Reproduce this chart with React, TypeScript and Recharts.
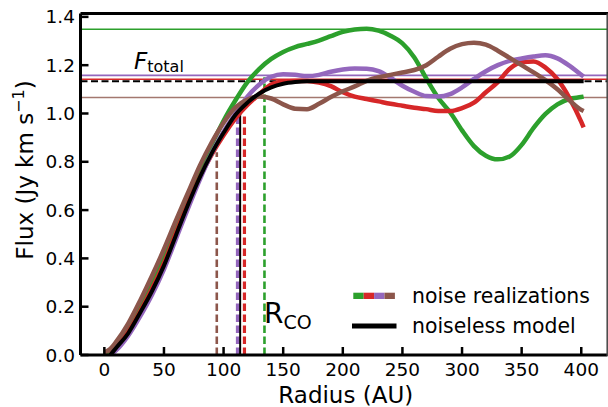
import React from 'react';
import { LineChart, Line, XAxis, YAxis, ReferenceLine } from 'recharts';

const radius = [0, 5, 10, 20, 30, 40, 50, 60, 70, 80, 90, 100, 110, 120, 130, 140, 150, 160, 170, 180, 190, 200, 210, 220, 230, 240, 250, 260, 270, 280, 290, 300, 310, 320, 330, 340, 350, 360, 370, 380, 390, 400, 402];

const modelFlux = [null, 0.0, 0.03, 0.09, 0.175, 0.265, 0.37, 0.495, 0.62, 0.735, 0.835, 0.92, 0.995, 1.045, 1.083, 1.108, 1.123, 1.13, 1.133, 1.133, 1.133, 1.133, 1.133, 1.133, 1.133, 1.133, 1.133, 1.133, 1.133, 1.133, 1.133, 1.133, 1.133, 1.133, 1.133, 1.133, 1.133, 1.133, 1.133, 1.133, 1.133, 1.133, 1.133];

const greenFlux = [0.005, 0.02, 0.045, 0.115, 0.205, 0.305, 0.415, 0.535, 0.65, 0.765, 0.87, 0.97, 1.055, 1.13, 1.185, 1.226, 1.255, 1.275, 1.288, 1.302, 1.32, 1.338, 1.348, 1.351, 1.343, 1.322, 1.29, 1.232, 1.145, 1.065, 1.005, 0.93, 0.865, 0.825, 0.81, 0.822, 0.87, 0.94, 0.998, 1.038, 1.06, 1.068, 1.07];

const redFlux = [null, 0.0, 0.03, 0.095, 0.18, 0.275, 0.38, 0.505, 0.625, 0.735, 0.83, 0.91, 0.98, 1.035, 1.08, 1.12, 1.132, 1.135, 1.135, 1.128, 1.113, 1.088, 1.07, 1.06, 1.05, 1.04, 1.032, 1.024, 1.018, 1.01, 1.01, 1.022, 1.045, 1.088, 1.13, 1.185, 1.212, 1.215, 1.19, 1.142, 1.065, 0.965, 0.942];

const purpleFlux = [null, 0.0, 0.02, 0.08, 0.16, 0.25, 0.355, 0.48, 0.605, 0.725, 0.835, 0.925, 1.0, 1.07, 1.12, 1.152, 1.162, 1.16, 1.155, 1.16, 1.173, 1.182, 1.186, 1.185, 1.175, 1.148, 1.115, 1.09, 1.072, 1.07, 1.08, 1.108, 1.143, 1.175, 1.2, 1.218, 1.228, 1.236, 1.241, 1.228, 1.198, 1.16, 1.153];

const brownFlux = [0.01, 0.025, 0.055, 0.13, 0.225, 0.328, 0.438, 0.556, 0.67, 0.783, 0.88, 0.962, 1.025, 1.058, 1.07, 1.062, 1.038, 1.02, 1.018, 1.04, 1.068, 1.092, 1.112, 1.135, 1.15, 1.16, 1.17, 1.18, 1.2, 1.235, 1.268, 1.287, 1.293, 1.285, 1.26, 1.23, 1.2, 1.17, 1.138, 1.1, 1.055, 1.015, 1.01];

// noise realization order: green, red, purple, brown
const seriesKeys = ['green', 'red', 'purple', 'brown'];
const seriesColors = ['#2ca02c', '#d62728', '#9467bd', '#8c564b'];
const totalFlux = [1.349, 1.142, 1.158, 1.066];
const rcoRadius = [134.3, 117.5, 112.0, 94.3];
const rcoTop = [1.15, 1.0, 0.99, 0.84];
const rcoWidth = [2.6, 3.2, 4, 2.6];

const modelTotal = 1.133;
const modelRco = 113.9;
const modelRcoTop = 1.02;

const xTicks = [0, 50, 100, 150, 200, 250, 300, 350, 400];
const yTicks = [0, 0.2, 0.4, 0.6, 0.8, 1.0, 1.2, 1.4];

const rows = radius.map((r, i) => ({
  r,
  model: modelFlux[i],
  green: greenFlux[i],
  red: redFlux[i],
  purple: purpleFlux[i],
  brown: brownFlux[i],
}));

const FONT = 'DejaVu Sans, sans-serif';

export default function App() {
  return (
    <div style={{ position: 'absolute', left: 0, top: 0, width: 608, height: 407, background: '#fff' }}>
      <LineChart
        width={608}
        height={407}
        data={rows}
        margin={{ top: 13.5, right: 0.5, bottom: 0, left: 0 }}
        style={{ fontFamily: FONT }}
      >
        <XAxis
          dataKey="r"
          type="number"
          domain={[-20, 422]}
          ticks={xTicks}
          interval={0}
          allowDataOverflow
          height={52}
          tickSize={-8}
          tickMargin={16}
          axisLine={{ stroke: '#000', strokeWidth: 3 }}
          tickLine={{ stroke: '#000', strokeWidth: 2.5 }}
          tick={{ fontSize: 18.5, fill: '#000', fontFamily: FONT }}
        />
        <YAxis
          type="number"
          domain={[0, 1.414]}
          ticks={yTicks}
          interval={0}
          allowDataOverflow
          width={80.5}
          tickSize={-8}
          tickMargin={13.5}
          axisLine={{ stroke: '#000', strokeWidth: 3 }}
          tickLine={{ stroke: '#000', strokeWidth: 2.5 }}
          tick={{ fontSize: 18.5, fill: '#000', fontFamily: FONT }}
          tickFormatter={(v: number) => v.toFixed(1)}
        />
        {seriesKeys.map((k, i) => (
          <ReferenceLine key={'h' + k} y={totalFlux[i]} stroke={seriesColors[i]} strokeWidth={1.6} strokeOpacity={i === 3 ? 0.8 : 1} />
        ))}
        <ReferenceLine y={modelTotal} stroke="#000" strokeWidth={2} strokeDasharray="7 3.5" />
        {seriesKeys.map((k, i) => (
          <ReferenceLine
            key={'v' + k}
            segment={[{ x: rcoRadius[i], y: 0 }, { x: rcoRadius[i], y: rcoTop[i] }]}
            stroke={seriesColors[i]}
            strokeWidth={rcoWidth[i]}
            strokeDasharray="7.5 3.5"
          />
        ))}
        <ReferenceLine segment={[{ x: modelRco, y: 0 }, { x: modelRco, y: modelRcoTop }]} stroke="#000" strokeWidth={2} />
        {seriesKeys.map((k, i) => (
          <Line
            key={k}
            dataKey={k}
            type="monotone"
            stroke={seriesColors[i]}
            strokeWidth={4.5}
            dot={false}
            activeDot={false}
            isAnimationActive={false}
          />
        ))}
        <Line dataKey="model" type="monotone" stroke="#000" strokeWidth={4} dot={false} activeDot={false} isAnimationActive={false} />
      </LineChart>
      <svg width={608} height={407} style={{ position: 'absolute', left: 0, top: 0, pointerEvents: 'none', fontFamily: FONT }}>
        <line x1={80.5} y1={13.5} x2={608} y2={13.5} stroke="#000" strokeWidth={3} />
        <line x1={607.2} y1={13.5} x2={607.2} y2={356} stroke="#444" strokeWidth={1.5} />
        <text x={134} y={68.5} fontSize={23} fill="#000">
          <tspan fontStyle="italic">F</tspan>
          <tspan fontSize={16} dy={3.5}>total</tspan>
        </text>
        <text x={264} y={323} fontSize={28} fill="#000">
          R<tspan fontSize={19} dy={6}>CO</tspan>
        </text>
        <text x={345.8} y={403.3} fontSize={23} textAnchor="middle" fill="#000">Radius (AU)</text>
        <text transform="translate(33,170) rotate(-90)" fontSize={23} textAnchor="middle" fill="#000">
          Flux (Jy km s<tspan fontSize={16} dy={-9}>−1</tspan><tspan dy={9}>)</tspan>
        </text>
        {seriesColors.map((c, i) => (
          <rect key={c} x={353.3 + i * 10.4} y={292.7} width={10.4} height={6.3} fill={c} />
        ))}
        <line x1={352} y1={326} x2={396.5} y2={326} stroke="#000" strokeWidth={5} />
        <text x={412} y={302.5} fontSize={20.4} fill="#000">noise realizations</text>
        <text x={412} y={332.5} fontSize={20.4} fill="#000">noiseless model</text>
      </svg>
    </div>
  );
}
